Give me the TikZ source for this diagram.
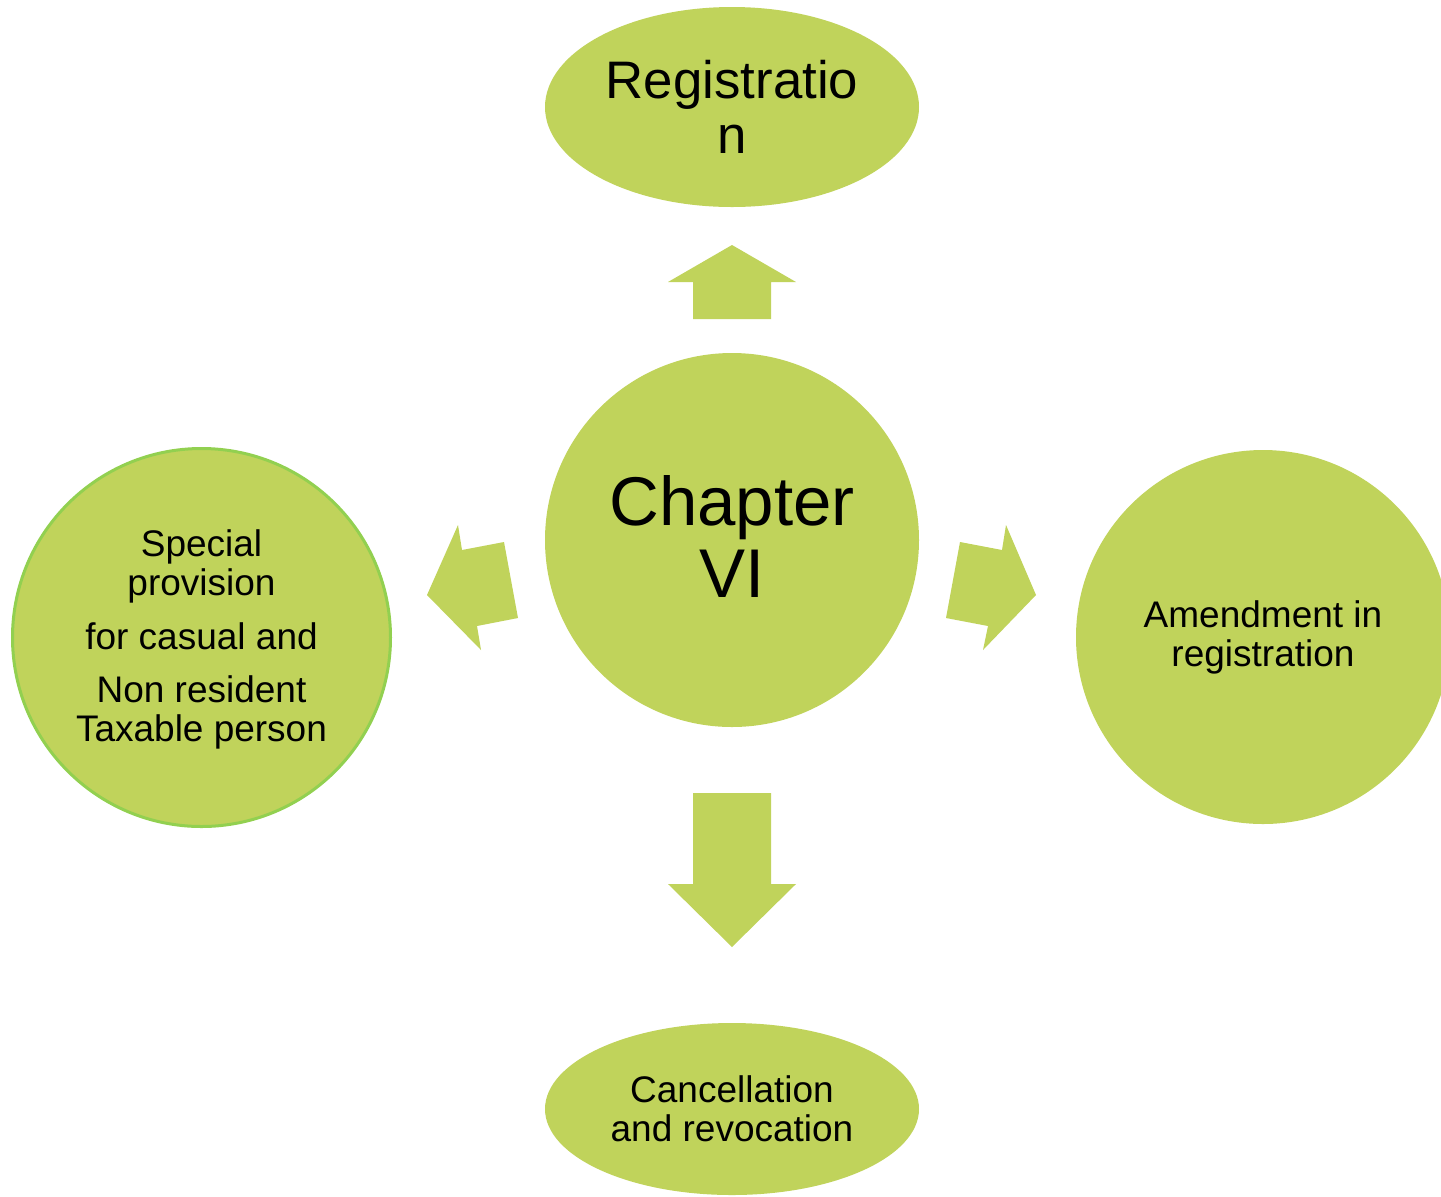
\documentclass[tikz,border=0pt]{standalone}
\usepackage{fontspec}
\setmainfont{Liberation Sans}
\usetikzlibrary{shapes.geometric}
\definecolor{leaf}{RGB}{192,211,91}
\definecolor{rim}{RGB}{146,208,80}
\tikzset{
  blob/.style={fill=leaf, draw=none, inner sep=0pt, align=center, text=black},
  smalltext/.style={font=\fontsize{18.5}{19.5}\selectfont},
  blockarrow/.style={fill=leaf, draw=none}
}
\begin{document}
\begin{tikzpicture}[x=0.5pt, y=-0.5pt]
\useasboundingbox (0,0) rectangle (1441,1196);
\begin{scope}
\clip (0,0) rectangle (1441,1196);
% nodes
\node[blob, ellipse, minimum width=187pt, minimum height=100pt,
      font=\fontsize{26.4}{27.5}\selectfont] (reg) at (732,107) {Registratio\\n};
\node[blob, circle, minimum size=187pt,
      font=\fontsize{34.5}{36}\selectfont] (chap) at (732,540) {};
\node[align=center, inner sep=0pt, font=\fontsize{34.5}{36}\selectfont] (chaptxt) at (732,536) {Chapter\\VI};
\node[blob, circle, minimum size=187pt, smalltext] (amend) at (1263,637)
      {Amendment in\\registration};
\node[blob, circle, minimum size=189pt, draw=rim, line width=1.5pt, smalltext] (spec) at (201.5,637.5)
      {};
\node[align=center, inner sep=0pt, smalltext] (spectxt) at (201.5,639)
      {Special\\provision\\[7.5pt]for casual and\\[7pt]Non resident\\Taxable person};
\node[blob, ellipse, minimum width=187pt, minimum height=86pt, smalltext] (canc) at (732,1109)
      {Cancellation\\and revocation};
% block arrows
\fill[blockarrow] (693,319) -- (693,282) -- (668,282) -- (732,245) -- (796,282) -- (771,282) -- (771,319) -- cycle;
\fill[blockarrow] (693,793) -- (771,793) -- (771,884) -- (796,884) -- (732,947) -- (668,884) -- (693,884) -- cycle;
\fill[blockarrow] (960,542) -- (1002,550) -- (1006,525) -- (1036,595) -- (983,650) -- (988,626) -- (946,618) -- cycle;
\fill[blockarrow] (504,542) -- (462,550) -- (458,525) -- (427,595) -- (481,650) -- (477,626) -- (518,618) -- cycle;
\end{scope}
\end{tikzpicture}
\end{document}
